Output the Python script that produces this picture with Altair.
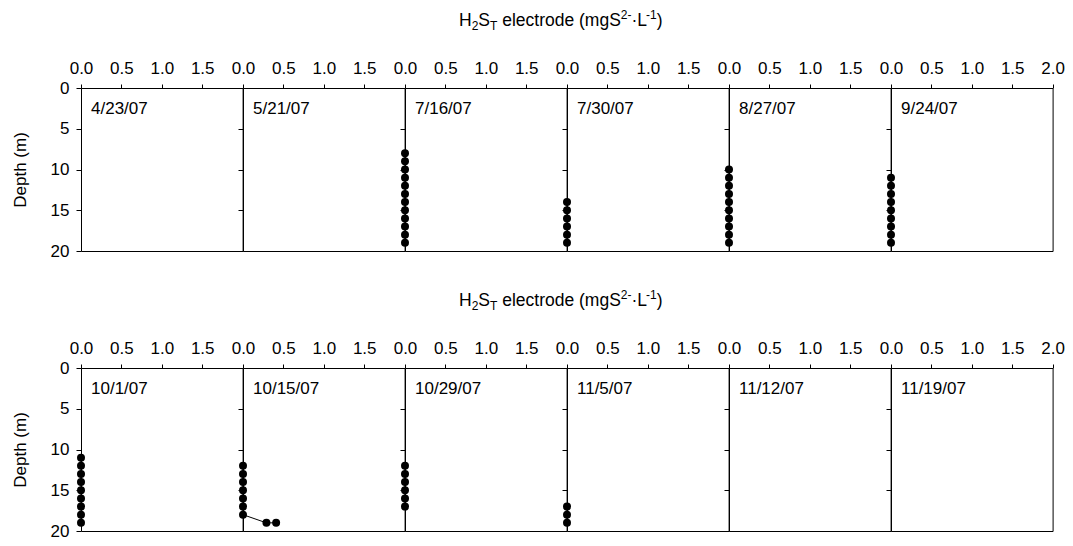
import altair as alt
import pandas as pd

FONT = "Liberation Sans"

row1_dates = ["4/23/07", "5/21/07", "7/16/07", "7/30/07", "8/27/07", "9/24/07"]
row2_dates = ["10/1/07", "10/15/07", "10/29/07", "11/5/07", "11/12/07", "11/19/07"]

# depth (m) and H2S_T electrode (mgS2-/L) per sampling date
depth_0716 = [8, 9, 10, 11, 12, 13, 14, 15, 16, 17, 18, 19]
conc_0716 = [0, 0, 0, 0, 0, 0, 0, 0, 0, 0, 0, 0]
depth_0730 = [14, 15, 16, 17, 18, 19]
conc_0730 = [0, 0, 0, 0, 0, 0]
depth_0827 = [10, 11, 12, 13, 14, 15, 16, 17, 18, 19]
conc_0827 = [0, 0, 0, 0, 0, 0, 0, 0, 0, 0]
depth_0924 = [11, 12, 13, 14, 15, 16, 17, 18, 19]
conc_0924 = [0, 0, 0, 0, 0, 0, 0, 0, 0]
depth_1001 = [11, 12, 13, 14, 15, 16, 17, 18, 19]
conc_1001 = [0, 0, 0, 0, 0, 0, 0, 0, 0]
depth_1015 = [12, 13, 14, 15, 16, 17, 18, 19, 19]
conc_1015 = [0, 0, 0, 0, 0, 0, 0, 0.29, 0.41]
depth_1029 = [12, 13, 14, 15, 16, 17]
conc_1029 = [0, 0, 0, 0, 0, 0]
depth_1105 = [17, 18, 19]
conc_1105 = [0, 0, 0]

profiles = {
    "7/16/07": (depth_0716, conc_0716),
    "7/30/07": (depth_0730, conc_0730),
    "8/27/07": (depth_0827, conc_0827),
    "9/24/07": (depth_0924, conc_0924),
    "10/1/07": (depth_1001, conc_1001),
    "10/15/07": (depth_1015, conc_1015),
    "10/29/07": (depth_1029, conc_1029),
    "11/5/07": (depth_1105, conc_1105),
}

x_ticks = [0.0, 0.5, 1.0, 1.5]
x_ticks_last = [0.0, 0.5, 1.0, 1.5, 2.0]
y_ticks = [0, 5, 10, 15, 20]

rows = []
for date, (ds, cs) in profiles.items():
    for k, (d, c) in enumerate(zip(ds, cs)):
        rows.append({"date": date, "depth": d, "conc": c, "seq": k})
df = pd.DataFrame(rows)

W = 161.6
H = 163
FS = 17

# approximate Arial / Liberation Sans advance widths (per 1000 em)
ADV = {"H": 722, "S": 667, "T": 611, "L": 556, " ": 278, "e": 556, "l": 222,
       "c": 500, "t": 278, "r": 333, "o": 556, "d": 556, "(": 333, ")": 333,
       "m": 833, "g": 556, "2": 556, "1": 556, "-": 333, "·": 278}

title_pieces = [("H", "n"), ("2", "sub"), ("S", "n"), ("T", "sub"),
                (" electrode (mgS", "n"), ("2-", "sup"), ("·L", "n"),
                ("-1", "sup"), (")", "n")]
TFS = 17.5
SFS = 12


def text_width(s, size):
    return sum(ADV.get(ch, 556) for ch in s) * size / 1000.0


def title_layers(center_x, base_y):
    total = sum(text_width(s, TFS if k == "n" else SFS) for s, k in title_pieces)
    x = center_x - total / 2
    out = []
    for s, k in title_pieces:
        size = TFS if k == "n" else SFS
        dy = 0 if k == "n" else (4 if k == "sub" else -7)
        shown = s.lstrip(" ")
        lead = text_width(s[: len(s) - len(shown)], size)
        out.append(
            alt.Chart(pd.DataFrame({"t": [shown]}))
            .mark_text(align="left", baseline="alphabetic", font=FONT, fontSize=size, color="black")
            .encode(x=alt.value(x + lead), y=alt.value(base_y + dy), text="t:N")
        )
        x += text_width(s, size)
    return out


def panel(date, idx):
    last = idx == 5
    xaxis = alt.Axis(orient="top", values=x_ticks_last if last else x_ticks, format=".1f",
                     title=None, domain=False, tickSize=4, tickColor="black",
                     labelPadding=7, labelFlush=False, labelOverlap=False, grid=False,
                     labelFont=FONT, labelFontSize=FS, labelColor="black")
    if idx == 0:
        yaxis = alt.Axis(values=y_ticks, title="Depth (m)", domain=False, tickSize=5,
                         tickColor="black", labelPadding=7, titlePadding=21, grid=False,
                         labelFont=FONT, labelFontSize=FS, labelColor="black",
                         titleFont=FONT, titleFontSize=FS, titleFontWeight="normal",
                         titleColor="black")
    else:
        yaxis = alt.Axis(values=y_ticks, title=None, labels=False, domain=False, tickSize=5,
                         tickColor="black", grid=False)
    x = alt.X("conc:Q", scale=alt.Scale(domain=[0, 2], nice=False), axis=xaxis)
    y = alt.Y("depth:Q", scale=alt.Scale(domain=[0, 20], reverse=True, nice=False), axis=yaxis)
    base = alt.Chart(df).transform_filter(alt.datum.date == date)
    line = base.mark_line(color="black", strokeWidth=1).encode(x=x, y=y, order="seq:Q")
    dots = base.mark_circle(color="black", opacity=1, size=64).encode(x=x, y=y)
    lab = (
        alt.Chart(pd.DataFrame({"t": [date]}))
        .mark_text(align="left", baseline="middle", font=FONT, fontSize=FS, color="black")
        .encode(x=alt.value(10), y=alt.value(21), text="t:N")
    )
    layers = [line, dots, lab]
    if idx == 0:
        layers += title_layers(3 * W - 5, -62)
    return alt.layer(*layers).properties(width=W, height=H)


panels = [panel(d, i) for i, d in enumerate(row1_dates)] + \
         [panel(d, i) for i, d in enumerate(row2_dates)]

chart = (
    alt.concat(*panels, columns=6, spacing={"row": 117, "column": 0}, bounds="flush")
    .properties(padding={"left": 10, "top": 8, "right": 5, "bottom": 5},
                background="white")
    .configure_view(stroke="black", strokeWidth=1)
)

chart.save("out.html", embed_options={"renderer": "svg", "actions": False})
